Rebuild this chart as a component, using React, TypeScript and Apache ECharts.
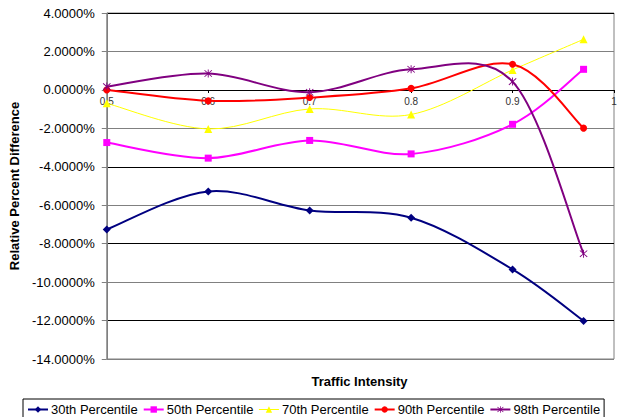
import React, { useEffect, useRef } from "react";
import * as echarts from "echarts";

// Traffic intensity levels at which each percentile was measured
const intensity = [0.5, 0.6, 0.7, 0.8, 0.9, 0.97];

// Relative percent difference (%) per percentile
const p30 = [-7.26, -5.28, -6.27, -6.65, -9.34, -12.02];
const p50 = [-2.74, -3.55, -2.63, -3.33, -1.79, 1.07];
const p70 = [-0.7, -2.03, -0.99, -1.28, 1.04, 2.63];
const p90 = [0.0, -0.57, -0.4, 0.08, 1.33, -1.99];
const p98 = [0.17, 0.85, -0.12, 1.07, 0.43, -8.52];

const seriesNames = [
  "30th Percentile",
  "50th Percentile",
  "70th Percentile",
  "90th Percentile",
  "98th Percentile",
];

const FONT = "'Liberation Sans', Arial, sans-serif";

// Six-armed asterisk marker
const STAR =
  "path://M4.5 0 L5.5 0 L5.5 10 L4.5 10 Z M0.6 1.3 L1.3 0.6 L9.4 8.7 L8.7 9.4 Z M8.7 0.6 L9.4 1.3 L1.3 9.4 L0.6 8.7 Z";

function pairs(values: number[]) {
  return intensity.map((x, i) => [x, values[i]]);
}

type Spec = {
  name: string;
  values: number[];
  color: string;
  symbol: string;
  size: number;
  width: number;
};

const specs: Spec[] = [
  { name: seriesNames[0], values: p30, color: "#000080", symbol: "diamond", size: 8, width: 2 },
  { name: seriesNames[1], values: p50, color: "#FF00FF", symbol: "rect", size: 7, width: 2 },
  { name: seriesNames[2], values: p70, color: "#FFFF00", symbol: "triangle", size: 8, width: 1 },
  { name: seriesNames[3], values: p90, color: "#FF0000", symbol: "circle", size: 7, width: 2 },
  { name: seriesNames[4], values: p98, color: "#800080", symbol: STAR, size: 8, width: 2 },
];

// Smoothed connector: each segment is a cubic Bezier whose control points
// follow the neighbouring points (Catmull-Rom style tangents).
function curveSeries(s: Spec, index: number) {
  const data = pairs(s.values);
  return {
    type: "custom",
    data,
    silent: true,
    z: 2 + index * 0.01,
    renderItem: (params: any, api: any) => {
      const i = params.dataIndex;
      const n = data.length;
      if (i >= n - 1) return { type: "group", children: [] };
      const p0 = api.coord(data[Math.max(i - 1, 0)]);
      const p1 = api.coord(data[i]);
      const p2 = api.coord(data[i + 1]);
      const p3 = api.coord(data[Math.min(i + 2, n - 1)]);
      return {
        type: "bezierCurve",
        shape: {
          x1: p1[0],
          y1: p1[1],
          cpx1: p1[0] + (p2[0] - p0[0]) / 6,
          cpy1: p1[1] + (p2[1] - p0[1]) / 6,
          cpx2: p2[0] - (p3[0] - p1[0]) / 6,
          cpy2: p2[1] - (p3[1] - p1[1]) / 6,
          x2: p2[0],
          y2: p2[1],
        },
        style: { stroke: s.color, lineWidth: s.width, fill: null },
      };
    },
  };
}

function markerSeries(s: Spec) {
  return {
    name: s.name,
    type: "line",
    data: pairs(s.values),
    symbol: s.symbol,
    symbolSize: s.size,
    showSymbol: true,
    lineStyle: { color: s.color, width: s.width, opacity: 0 },
    itemStyle: { color: s.color, borderWidth: 0 },
    z: 3,
  };
}

export default function App() {
  const ref = useRef<HTMLDivElement>(null);

  useEffect(() => {
    if (!ref.current) return;
    const chart = echarts.init(ref.current, undefined, { renderer: "svg" });

    chart.setOption({
      animation: false,
      backgroundColor: "#fff",
      textStyle: { fontFamily: FONT },
      grid: {
        left: 105,
        right: 7,
        top: 13,
        bottom: 58,
        show: true,
        borderColor: "#808080",
        borderWidth: 1,
      },
      legend: {
        left: 23,
        top: 399,
        data: specs.map((s) => ({
          name: s.name,
          lineStyle: { opacity: 1, width: s.width, color: s.color },
        })),
        orient: "horizontal",
        itemWidth: 20,
        itemHeight: 8,
        itemGap: 5,
        padding: [4, 4, 3, 4],
        borderColor: "#000",
        borderWidth: 1,
        borderRadius: 0,
        textStyle: { fontSize: 13, color: "#000", fontFamily: FONT, padding: [0, 0, 0, -2] },
      },
      xAxis: {
        type: "value",
        min: 0.5,
        max: 1,
        interval: 0.1,
        offset: -269,
        axisLine: { onZero: false, lineStyle: { color: "#000", width: 1 } },
        axisTick: { show: true, length: 3, lineStyle: { color: "#000" } },
        axisLabel: { fontSize: 10, color: "#333", margin: 6, fontFamily: FONT },
        splitLine: { show: false },
      },
      yAxis: {
        type: "value",
        min: -14,
        max: 4,
        interval: 2,
        name: "Relative Percent Difference",
        nameLocation: "middle",
        nameGap: 78,
        nameTextStyle: { fontSize: 13, fontWeight: "bold", color: "#000", fontFamily: FONT },
        axisLine: { show: true, lineStyle: { color: "#808080", width: 1 } },
        axisTick: { show: true, length: 5, lineStyle: { color: "#808080" } },
        axisLabel: {
          fontSize: 13,
          color: "#000",
          margin: 12,
          fontFamily: FONT,
          formatter: (v: number) => v.toFixed(4) + "%",
        },
        splitLine: {
          show: true,
          lineStyle: { color: ["#808080", "#000"], width: 1 },
        },
      },
      graphic: [
        {
          type: "text",
          x: 359.5,
          y: 381,
          style: {
            text: "Traffic Intensity",
            font: `bold 13px ${FONT}`,
            fill: "#000",
            textAlign: "center",
            textVerticalAlign: "middle",
          },
        },
      ],
      series: [...specs.map(markerSeries), ...specs.map(curveSeries)],
    });

    return () => chart.dispose();
  }, []);

  return (
    <div
      ref={ref}
      style={{ width: 621, height: 417, position: "absolute", left: 0, top: 0 }}
    />
  );
}
